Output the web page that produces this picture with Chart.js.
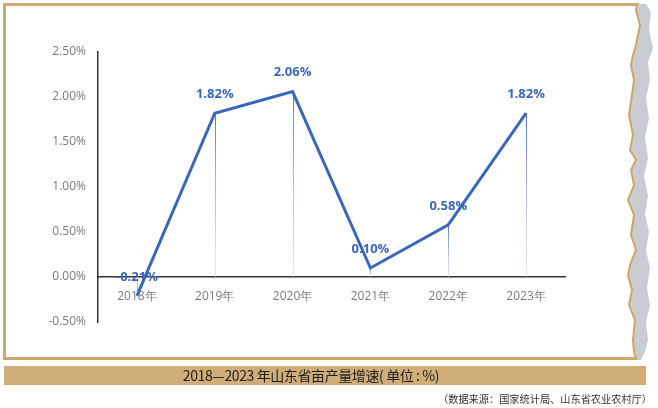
<!DOCTYPE html>
<html>
<head>
<meta charset="utf-8">
<script src="https://cdn.jsdelivr.net/npm/chart.js@4/dist/chart.umd.min.js"></script>
<style>
  html, body { margin: 0; padding: 0; background: #fff; }
  #wrap { position: relative; width: 658px; height: 408px; overflow: hidden; }
  #frame { position: absolute; left: 3px; top: 3px; width: 636px; height: 357px; box-sizing: border-box;
           border: 3px solid #cdaa74; border-right: none; }
  #edge { position: absolute; left: 0; top: 0; }
  #banner { position: absolute; left: 4px; top: 366px; width: 642px; height: 19px; background: #cfae79;
            box-sizing: border-box; padding-right: 28px; letter-spacing: -0.4px;
            font: 14px "Noto Sans CJK SC", sans-serif; color: #1e1e1e; text-align: center; line-height: 19px; }
  #source { position: absolute; right: 6px; top: 391px; font: 10.2px "Noto Sans CJK SC", serif; color: #333; }
  #myChart { position: absolute; left: 0; top: 0; }
</style>
</head>
<body>
<div id="wrap">
  <div id="frame"></div>
  <svg id="edge" width="658" height="408">
    <polygon fill="#c9ccd0" points="637,4 646,4 651,12 649,30 653,48 648,62 650,80 646,98 649,118 645,138 648,158 644,176 648,196 645,214 649,232 646,250 650,268 647,288 650,306 646,322 648,340 645,352 641,360 634,360 634,340 635,320 629,305 632,290 628,275 630,265 636,250 631,235 634,215 628,200 634,185 631,170 636,160 630,150 633,135 629,115 632,95 634,80 631,65 633,55 636,45 640,25 636,10"/>
    <polyline fill="none" stroke="#cfa568" stroke-width="2" points="637,4 636,10 640,25 636,45 633,55 631,65 634,80 632,95 629,115 633,135 630,150 636,160 631,170 634,185 628,200 634,215 631,235 636,250 630,265 628,275 632,290 629,305 635,320 633,340 634,352 636,359 4,359"/>
  </svg>
  <canvas id="myChart" width="658" height="408"></canvas>
  <div id="banner">2018—2023 年山东省亩产量增速( 单位 : %)</div>
  <div id="source">（数据来源：国家统计局、山东省农业农村厅）</div>
</div>
<script>
// years and growth rate (%)
const years = ["2018年", "2019年", "2020年", "2021年", "2022年", "2023年"];
const growth = [-0.21, 1.82, 2.06, 0.10, 0.58, 1.82];
const yTicks = [-0.5, 0, 0.5, 1, 1.5, 2, 2.5];

const blue = "#3a67b9";

// thin vertical lines from each point down to the zero line
const dropLines = {
  id: "dropLines",
  beforeDatasetsDraw(chart) {
    const c = chart.ctx;
    const zero = chart.scales.y.getPixelForValue(0);
    chart.getDatasetMeta(0).data.forEach(pt => {
      const g = c.createLinearGradient(0, pt.y, 0, zero);
      g.addColorStop(0, "rgba(80,115,195,0.95)");
      g.addColorStop(1, "rgba(200,215,240,0.5)");
      c.save();
      c.strokeStyle = g;
      c.lineWidth = 1;
      c.beginPath();
      c.moveTo(Math.round(pt.x) + 0.5, pt.y);
      c.lineTo(Math.round(pt.x) + 0.5, zero);
      c.stroke();
      c.restore();
    });
  }
};

// value labels above the points
const valueLabels = {
  id: "valueLabels",
  afterDatasetsDraw(chart) {
    const c = chart.ctx;
    c.save();
    c.font = "bold 13px 'Open Sans', sans-serif";
    c.fillStyle = blue;
    c.textAlign = "center";
    c.textBaseline = "middle";
    chart.getDatasetMeta(0).data.forEach((pt, i) => {
      c.fillText(growth[i].toFixed(2) + "%", pt.x, pt.y - 19);
    });
    c.restore();
  }
};

let ctx = document.getElementById("myChart").getContext("2d");
let chart = new Chart(ctx, {
  type: "line",
  data: {
    labels: years,
    datasets: [{
      data: growth,
      borderColor: blue,
      borderWidth: 3,
      pointRadius: 0,
      tension: 0,
      fill: false
    }]
  },
  options: {
    responsive: false,
    animation: false,
    layout: { padding: { top: 52, bottom: 86, right: 93, left: 0 } },
    plugins: { legend: { display: false }, tooltip: { enabled: false } },
    scales: {
      x: {
        position: { y: 0 },
        offset: true,
        grid: { display: false, drawTicks: false },
        border: { display: true, color: "#333", width: 1.5 },
        ticks: { color: "#7a7a7a", padding: 12, font: { size: 12, family: "'Open Sans', sans-serif" } }
      },
      y: {
        min: -0.5,
        max: 2.5,
        afterBuildTicks: s => { s.ticks = yTicks.map(v => ({ value: v })); },
        afterFit: s => { s.width = 98; },
        grid: { display: false, drawTicks: false },
        border: { display: true, color: "#333", width: 1.5 },
        ticks: {
          color: "#7a7a7a",
          padding: 12,
          font: { size: 12, family: "'Open Sans', sans-serif" },
          callback: v => v.toFixed(2) + "%"
        }
      }
    }
  },
  plugins: [dropLines, valueLabels]
});
</script>
</body>
</html>
